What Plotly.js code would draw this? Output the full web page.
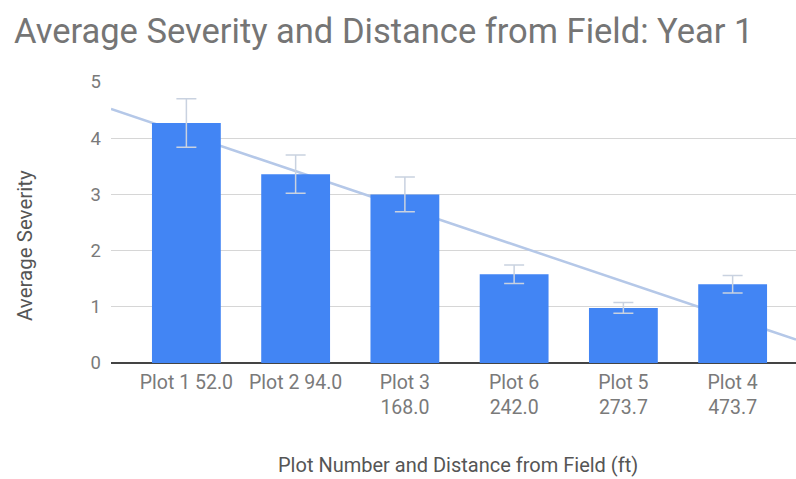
<!DOCTYPE html>
<html>
<head>
<meta charset="utf-8">
<script src="https://cdn.plot.ly/plotly-3.0.1.min.js"></script>
<style>html,body{margin:0;padding:0;background:#fff;}#chart{width:796px;height:479px;}</style>
</head>
<body>
<div id="chart"></div>
<script>
const categories = ["Plot 1 52.0", "Plot 2 94.0", "Plot 3<br>168.0", "Plot 6<br>242.0", "Plot 5<br>273.7", "Plot 4<br>473.7"];
const severity = [4.27, 3.36, 3.00, 1.58, 0.98, 1.40];
const errors = [0.43, 0.34, 0.31, 0.165, 0.095, 0.155];
const yTicks = [0, 1, 2, 3, 4, 5];

const idx = categories.map((c, i) => i);
const xRange = [-0.69, 5.58];
const yRange = [0, 5];

// least-squares linear trendline over category index
const n = severity.length;
const mx = idx.reduce((a, b) => a + b, 0) / n;
const my = severity.reduce((a, b) => a + b, 0) / n;
let sxy = 0, sxx = 0;
for (let i = 0; i < n; i++) { sxy += (idx[i] - mx) * (severity[i] - my); sxx += (idx[i] - mx) ** 2; }
const slope = sxy / sxx, intercept = my - slope * mx;
const trendX = xRange.slice();
const trendY = trendX.map(x => intercept + slope * x);

const data = [
  {
    type: 'scatter', mode: 'lines', x: trendX, y: trendY, xaxis: 'x', yaxis: 'y',
    line: {color: '#b5c8e8', width: 2.5}, hoverinfo: 'skip'
  },
  {
    type: 'bar', x: idx, y: severity, width: 0.63, xaxis: 'x2', yaxis: 'y2',
    marker: {color: '#4285f4'},
    error_y: {type: 'data', array: errors, visible: true, color: '#c9d2e0', thickness: 1.5, width: 10}
  }
];

const layout = {
  width: 796, height: 479,
  margin: {l: 111, r: 0, t: 82, b: 116},
  paper_bgcolor: '#ffffff', plot_bgcolor: '#ffffff',
  showlegend: false,
  font: {family: 'Roboto, sans-serif', color: '#757575'},
  title: {
    text: 'Average Severity and Distance from Field: Year 1',
    font: {family: 'Roboto, sans-serif', size: 34.5, color: '#757575'},
    x: 14 / 796, xanchor: 'left', xref: 'container',
    y: 1 - 31 / 479, yanchor: 'middle', yref: 'container'
  },
  xaxis: {
    range: xRange, tickmode: 'array', tickvals: idx, ticktext: categories,
    showgrid: false, zeroline: false, showline: false, ticks: '',
    tickfont: {size: 19.5, color: '#7a7a7a'}, ticklabelstandoff: 5, fixedrange: true
  },
  yaxis: {
    range: yRange, tickmode: 'array', tickvals: yTicks,
    showgrid: true, gridcolor: '#d6d6d6', gridwidth: 1,
    zeroline: true, zerolinecolor: '#444', zerolinewidth: 2,
    showline: false, ticks: '', tickfont: {size: 18.5, color: '#7a7a7a'},
    ticklabelstandoff: 9, fixedrange: true
  },
  xaxis2: {overlaying: 'x', range: xRange, visible: false, fixedrange: true},
  yaxis2: {overlaying: 'y', range: yRange, visible: false, fixedrange: true},
  annotations: [
    {text: 'Average Severity', xref: 'paper', yref: 'paper', x: (25 - 111) / 685, y: (363 - 246) / 281,
     textangle: -90, showarrow: false, xanchor: 'center', yanchor: 'middle',
     font: {size: 20.5, color: '#555555'}},
    {text: 'Plot Number and Distance from Field (ft)', xref: 'paper', yref: 'paper', x: (458 - 111) / 685, y: (363 - 465) / 281,
     showarrow: false, xanchor: 'center', yanchor: 'middle',
     font: {size: 20, color: '#555555'}}
  ]
};

Plotly.newPlot('chart', data, layout, {displayModeBar: false, staticPlot: true});
</script>
</body>
</html>
